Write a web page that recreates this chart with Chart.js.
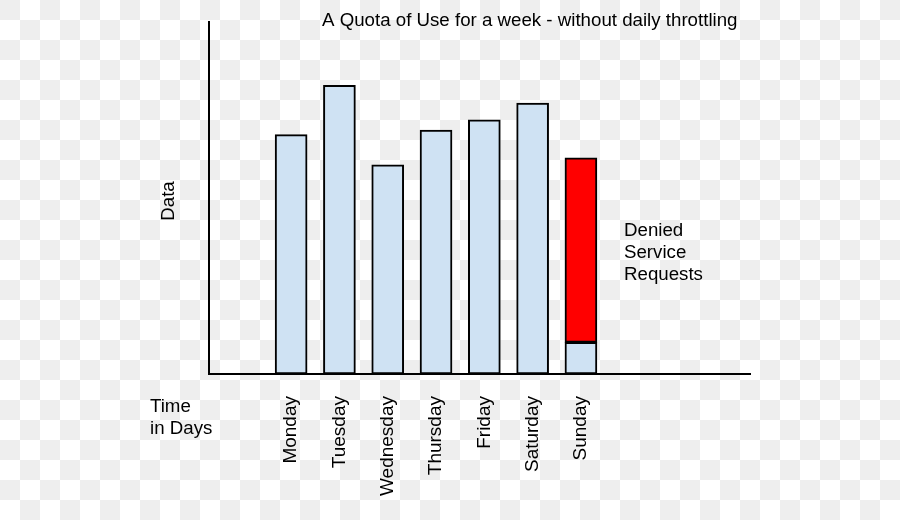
<!DOCTYPE html>
<html>
<head>
<meta charset="utf-8">
<script src="https://cdn.jsdelivr.net/npm/chart.js@4.4.1/dist/chart.umd.min.js"></script>
<style>
    html, body {
        margin: 0;
        padding: 0;
    }
    body {
        width: 900px;
        height: 520px;
        background-color: #ffffff;
        background-image: conic-gradient(#ffffff 0 25%, #eeeeee 0 50%, #ffffff 0 75%, #eeeeee 0);
        background-size: 40px 40px;
    }
    #wrap {
        position: relative;
        width: 900px;
        height: 520px;
    }
</style>
</head>
<body>
<div id="wrap"><canvas id="quotaChart"></canvas></div>
<script>
// data
const days = ['Monday', 'Tuesday', 'Wednesday', 'Thursday', 'Friday', 'Saturday', 'Sunday'];
const dayPositions = [1, 2, 3, 4, 5, 6, 7];
const usedQuota = [68, 82, 59.4, 69.3, 72.2, 77, 9];
const deniedRequests = [0, 0, 0, 0, 0, 0, 52.4];

const chartTitle = 'A Quota of Use for a week - without daily throttling';
const yTitle = 'Data';
const xTitle = ['Time', 'in Days'];
const deniedNote = ['Denied', 'Service', 'Requests'];

(function () {
    "use strict";
    const textFont = '18.7px "Liberation Sans", Arial, sans-serif';

    const usedPoints = dayPositions.map(function (x, i) {
        return { x: x, y: usedQuota[i] };
    });
    const deniedPoints = dayPositions.map(function (x, i) {
        return { x: x, y: deniedRequests[i] };
    }).filter(function (p) {
        return p.y > 0;
    });

    // free text around the plot
    const notes = {
        id: 'notes',
        afterDraw: function (chart) {
            const ctx = chart.ctx;
            ctx.save();
            ctx.fillStyle = '#000000';
            ctx.font = textFont;
            ctx.textBaseline = 'middle';
            ctx.textAlign = 'left';
            ctx.fillText(chartTitle, 322, 21);
            xTitle.forEach(function (t, i) {
                ctx.fillText(t, 150, 407 + i * 22);
            });
            deniedNote.forEach(function (t, i) {
                ctx.fillText(t, 624, 231 + i * 22);
            });
            ctx.translate(169, 201);
            ctx.rotate(-Math.PI / 2);
            ctx.textAlign = 'center';
            ctx.fillText(yTitle, 0, 0);
            ctx.restore();
        }
    };

    const context = document.getElementById('quotaChart').getContext('2d');
    const chart = new Chart(context, {
        type: 'bar',
        data: {
            datasets: [{
                label: 'Used',
                data: usedPoints,
                backgroundColor: '#cfe2f3',
                borderColor: '#000000',
                borderWidth: 2,
                borderSkipped: false,
                barThickness: 32
            }, {
                label: 'Denied',
                data: deniedPoints,
                backgroundColor: '#ff0000',
                borderColor: '#000000',
                borderWidth: 2,
                borderSkipped: false,
                barThickness: 32
            }]
        },
        options: {
            responsive: true,
            maintainAspectRatio: false,
            animation: false,
            layout: {
                padding: { left: 209, right: 150, top: 22, bottom: 0 }
            },
            scales: {
                x: {
                    type: 'linear',
                    stacked: true,
                    offset: false,
                    bounds: 'data',
                    min: -0.7,
                    max: 10.5,
                    afterBuildTicks: function (scale) {
                        scale.ticks = dayPositions.map(function (v) {
                            return { value: v };
                        });
                    },
                    afterFit: function (scale) {
                        scale.height = 146;
                    },
                    ticks: {
                        minRotation: 90,
                        maxRotation: 90,
                        padding: 14,
                        color: '#000000',
                        font: { family: '"Liberation Sans", Arial, sans-serif', size: 19 },
                        callback: function (value) {
                            const i = dayPositions.indexOf(value);
                            return i >= 0 ? days[i] : '';
                        }
                    },
                    grid: { display: false },
                    border: { display: true, color: '#000000', width: 2 }
                },
                y: {
                    stacked: true,
                    min: 0,
                    max: 100,
                    afterFit: function (scale) {
                        scale.width = 0;
                    },
                    ticks: { display: false },
                    grid: { display: false },
                    border: { display: true, color: '#000000', width: 2 }
                }
            },
            plugins: {
                legend: { display: false },
                tooltip: { enabled: false }
            }
        },
        plugins: [notes]
    });
}());
</script>
</body>
</html>
